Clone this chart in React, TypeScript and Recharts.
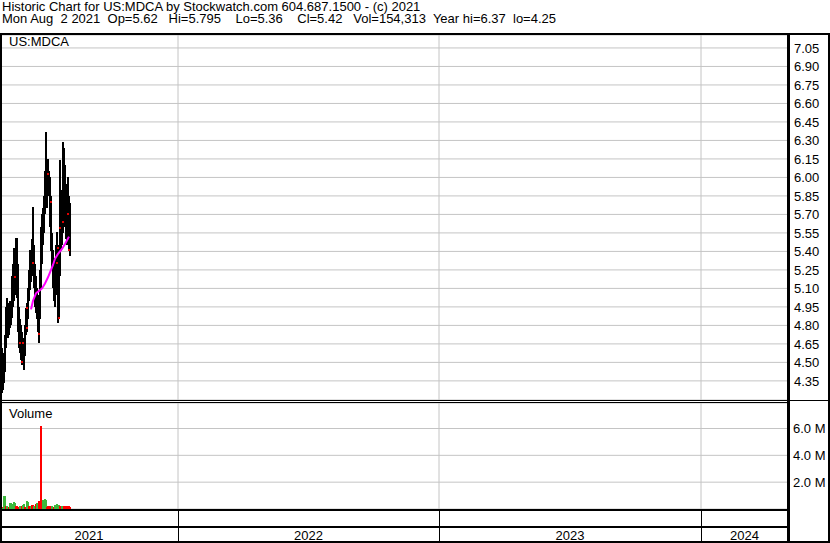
import {
  Bar,
  CartesianGrid,
  Cell,
  ComposedChart,
  Line,
  ReferenceLine,
  Scatter,
  XAxis,
  YAxis,
} from "recharts";

const FONT = '"Liberation Sans", Arial, sans-serif';
const GRID = "#c4c4c4";

// daily bars, trading-day index 0 = first day on the chart
const priceHighs = [
  4.62, 4.58, 4.55, 4.72, 4.95, 5.02, 4.98, 4.92, 5.0, 4.96, 5.2, 5.3, 5.43, 5.4, 5.51, 5.51,
  5.3, 4.95, 4.85, 4.8, 4.75, 4.7, 4.68, 4.8, 4.94, 4.98, 5.1, 5.25, 5.41, 5.4, 5.5, 5.76,
  5.45, 5.3, 5.2, 5.1, 5.05, 4.95, 5.25, 5.6, 5.7, 5.75, 5.85, 6.05, 6.37, 6.1, 6.15, 6.05,
  6.0, 5.85, 5.55, 5.41, 5.35, 5.3, 5.45, 5.56, 5.45, 5.4, 6.14, 5.9, 5.8, 6.29, 6.24, 6.1,
  5.95, 5.9, 6.0, 5.85, 5.795,
];
const priceLows = [
  4.25, 4.28, 4.33, 4.42, 4.62, 4.74, 4.7, 4.72, 4.78, 4.8, 4.86, 4.95, 5.0, 5.05, 5.08, 5.02,
  4.75, 4.62, 4.58, 4.52, 4.48, 4.5, 4.44, 4.55, 4.72, 4.75, 4.85, 5.0, 5.09, 5.15, 5.2, 5.25,
  5.1, 4.95, 4.9, 4.85, 4.75, 4.66, 4.85, 5.1, 5.3, 5.45, 5.55, 5.7, 5.8, 5.75, 5.9, 5.85,
  5.6, 5.4, 5.25, 5.1, 5.0, 4.95, 5.05, 5.15, 4.82, 4.85, 5.2, 5.4, 5.45, 5.55, 5.7, 5.6,
  5.5, 5.45, 5.55, 5.4, 5.36,
];

// moving average (magenta)
const maDays = [29, 31, 34, 37, 40, 43, 46, 48, 51, 53, 56, 60, 63, 67];
const maValues = [4.93, 5.0, 5.06, 5.08, 5.1, 5.14, 5.19, 5.23, 5.29, 5.34, 5.38, 5.42, 5.46, 5.52];

// small red marks on the bars
const markDays = [13, 18, 20, 21, 25, 25, 31, 37, 46, 49, 55, 56, 57, 58, 61, 66, 67];
const markPrices = [5.19, 4.66, 4.5, 4.66, 4.94, 4.78, 5.31, 4.73, 6.03, 5.8, 5.31, 5.43, 4.86, 5.59, 5.64, 5.7, 5.41];

// volume in millions, 1 = up day (green), 0 = down day (red)
const volumes = [
  0.15, 0.1, 1.0, 0.95, 0.2, 0.2, 0.18, 0.12, 0.45, 0.42, 0.35, 0.3, 0.5, 0.48, 0.25, 0.22,
  0.15, 0.12, 0.25, 0.22, 0.2, 0.3, 0.35, 0.15, 0.12, 0.6, 0.55, 0.25, 0.22, 0.25, 0.3, 0.28,
  0.2, 0.18, 0.35, 0.45, 0.42, 0.6, 0.55, 6.2, 0.3, 0.65, 0.6, 0.75, 0.7, 0.15, 0.2, 0.22,
  0.25, 0.22, 0.2, 0.18, 0.12, 0.3, 0.28, 0.35, 0.33, 0.3, 0.25, 0.22, 0.2, 0.18, 0.25, 0.25,
  0.24, 0.25, 0.23, 0.2, 0.15,
];
const volumeUp = [
  0, 1, 1, 1, 0, 1, 1, 0, 1, 1, 1, 1, 1, 1, 0, 0,
  0, 0, 1, 1, 0, 1, 1, 0, 0, 1, 1, 0, 0, 1, 0, 0,
  1, 1, 0, 1, 1, 0, 0, 0, 0, 1, 1, 1, 1, 0, 0, 0,
  0, 0, 1, 1, 0, 1, 1, 1, 1, 1, 0, 0, 1, 1, 0, 0,
  0, 0, 0, 0, 0,
];

const priceTicks = [
  4.35, 4.5, 4.65, 4.8, 4.95, 5.1, 5.25, 5.4, 5.55, 5.7, 5.85, 6.0, 6.15, 6.3, 6.45, 6.6,
  6.75, 6.9, 7.05,
];
const volumeTicks = [2, 4, 6];

const years = ["2021", "2022", "2023", "2024"];
const yearStarts = [176, 437, 699]; // first trading day of 2022, 2023, 2024
const firstDay = -2;
const lastDay = 786;

const headerText =
  "Historic Chart for US:MDCA by Stockwatch.com 604.687.1500 - (c) 2021\n" +
  "Mon Aug  2 2021  Op=5.62   Hi=5.795    Lo=5.36    Cl=5.42   Vol=154,313  Year hi=6.37  lo=4.25";

const priceData = priceHighs.map((h, i) => ({ day: i, range: [priceLows[i], h] }));
const maData = maDays.map((d, i) => ({ day: d, ma: maValues[i] }));
const markData = markDays.map((d, i) => ({ day: d, mark: markPrices[i] }));
const volumeData = volumes.map((v, i) => ({ day: i, vol: v, up: volumeUp[i] }));

const bounds = [firstDay, ...yearStarts, lastDay];
const yearMids = years.map((_, i) => (bounds[i] + bounds[i + 1]) / 2);

const tickStyle = { fontFamily: FONT, fontSize: 13, fill: "#000" };

function YearTick(props: any) {
  const { x, y, payload } = props;
  const idx = yearMids.indexOf(payload.value);
  if (idx >= 0) {
    return (
      <text x={x} y={y + 31} textAnchor="middle" {...tickStyle}>
        {years[idx]}
      </text>
    );
  }
  return <line x1={x} x2={x} y1={y} y2={y + 34} stroke="#000" strokeWidth={1} shapeRendering="crispEdges" />;
}

// 2px wide column centred on the bar's own x from the scale
function DayBar(props: any) {
  const { x, y, width, height, fill } = props;
  if (height == null || isNaN(height)) return <g />;
  const cx = Math.round(x + width / 2);
  const top = Math.round(y);
  const h = Math.max(1, Math.round(y + height) - top);
  return <rect x={cx - 1} y={top} width={2} height={h} fill={fill} />;
}

function RedMark(props: any) {
  return <rect x={Math.round(props.cx) - 1} y={Math.round(props.cy) - 1} width={2} height={2} fill="#e00000" />;
}

const line = (left: number, top: number, width: number, height: number) => (
  <div style={{ position: "absolute", left, top, width, height, background: "#000" }} />
);

export default function App() {
  return (
    <div
      style={{
        position: "absolute",
        left: 0,
        top: 0,
        width: 830,
        height: 543,
        background: "#fff",
        overflow: "hidden",
        fontFamily: FONT,
        fontSize: 13,
        color: "#000",
      }}
    >
      <div style={{ position: "absolute", left: 2, top: 1, lineHeight: "12px", whiteSpace: "pre" }}>
        {headerText}
      </div>

      <div style={{ position: "absolute", left: 0, top: 33 }}>
        <ComposedChart
          width={830}
          height={367}
          data={priceData}
          margin={{ top: 2, right: 0, bottom: 0, left: 2 }}
        >
          <CartesianGrid vertical={false} stroke={GRID} />
          <XAxis dataKey="day" type="number" domain={[0, lastDay]} allowDataOverflow hide />
          <YAxis
            orientation="right"
            width={42}
            type="number"
            domain={[4.195, 7.155]}
            allowDataOverflow
            ticks={priceTicks}
            interval={0}
            tickFormatter={(v: number) => v.toFixed(2)}
            axisLine={false}
            tickLine={false}
            tickSize={0}
            tickMargin={6}
            tick={tickStyle}
          />
          {yearStarts.map((d) => (
            <ReferenceLine key={d} x={d} stroke={GRID} />
          ))}
          <Bar dataKey="range" fill="#000" barSize={2} shape={DayBar} isAnimationActive={false} />
          <Line
            data={maData}
            dataKey="ma"
            stroke="#ff00ff"
            strokeWidth={2}
            dot={false}
            isAnimationActive={false}
          />
          <Scatter data={markData} dataKey="mark" shape={RedMark} isAnimationActive={false} />
        </ComposedChart>
      </div>

      <div style={{ position: "absolute", left: 0, top: 403 }}>
        <ComposedChart
          width={830}
          height={140}
          data={volumeData}
          margin={{ top: 0, right: 0, bottom: 0, left: 2 }}
        >
          <CartesianGrid vertical={false} stroke={GRID} />
          <XAxis
            dataKey="day"
            type="number"
            domain={[0, lastDay]}
            allowDataOverflow
            height={34}
            ticks={[...yearStarts, ...yearMids]}
            interval={0}
            tick={YearTick}
            axisLine={false}
            tickLine={false}
            tickSize={0}
            tickMargin={0}
          />
          <YAxis
            orientation="right"
            width={42}
            type="number"
            domain={[0, 7.9]}
            allowDataOverflow
            ticks={volumeTicks}
            interval={0}
            tickFormatter={(v: number) => `${v.toFixed(1)} M`}
            axisLine={false}
            tickLine={false}
            tickSize={0}
            tickMargin={5}
            tick={tickStyle}
          />
          {yearStarts.map((d) => (
            <ReferenceLine key={d} x={d} stroke={GRID} />
          ))}
          <Bar dataKey="vol" barSize={2} shape={DayBar} isAnimationActive={false}>
            {volumeData.map((e) => (
              <Cell key={e.day} fill={e.up ? "#3cb83c" : "#ff0000"} />
            ))}
          </Bar>
        </ComposedChart>
      </div>

      <div style={{ position: "absolute", left: 9, top: 35, lineHeight: "13px" }}>US:MDCA</div>
      <div style={{ position: "absolute", left: 9, top: 407, lineHeight: "13px" }}>Volume</div>

      {line(0, 33, 830, 2)}
      {line(0, 33, 2, 510)}
      {line(828, 33, 2, 510)}
      {line(787, 33, 3, 510)}
      {line(0, 400, 830, 1)}
      {line(0, 402, 788, 1)}
      {line(0, 509, 788, 2)}
      {line(0, 526, 788, 2)}
      {line(0, 541, 830, 2)}
    </div>
  );
}
